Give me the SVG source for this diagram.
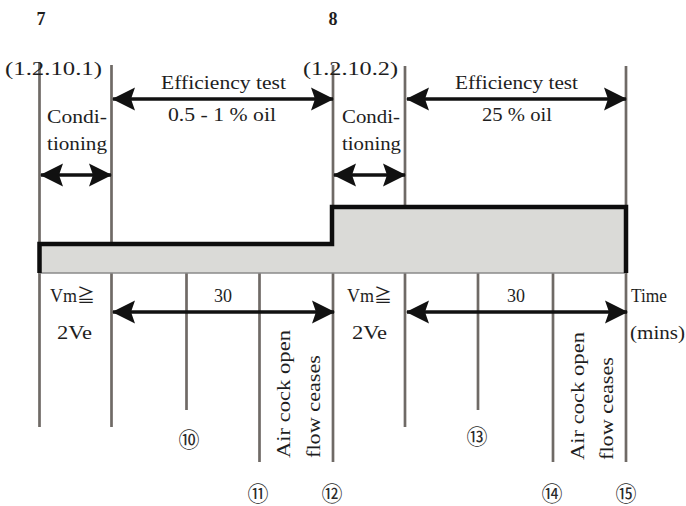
<svg xmlns="http://www.w3.org/2000/svg" width="686" height="506" viewBox="0 0 686 506">
<style>
.t{font-family:"Liberation Serif","Noto Sans CJK JP",serif;font-size:18px;fill:#1e1e1e}
.b{font-weight:bold;font-size:18px}
.m{text-anchor:middle}
.c{font-family:"Noto Sans CJK JP","Liberation Serif",serif;font-size:21px;fill:#2a2a2a;text-anchor:middle}
.g{stroke:#6f6a66;stroke-width:2.7;fill:none}
.a{stroke:#111;stroke-width:3.5;fill:none;marker-start:url(#ah);marker-end:url(#ah)}
</style>
<defs>
<marker id="ah" viewBox="-24 -13 26 26" markerUnits="userSpaceOnUse" markerWidth="26" markerHeight="26" refX="0" refY="0" orient="auto-start-reverse">
<path d="M1,0 L-22,-11.5 L-18,0 L-22,11.5 Z" fill="#111"/>
</marker>
</defs>
<rect width="686" height="506" fill="#fff"/>
<g id="gridlines">
<line class="g" x1="39.5" y1="62" x2="39.5" y2="427"/>
<line class="g" x1="111.5" y1="65" x2="111.5" y2="427"/>
<line class="g" x1="186.5" y1="273" x2="186.5" y2="410"/>
<line class="g" x1="259.5" y1="273" x2="259.5" y2="462"/>
<line class="g" x1="333" y1="65" x2="333" y2="462"/>
<line class="g" x1="405" y1="66" x2="405" y2="427"/>
<line class="g" x1="478" y1="273" x2="478" y2="410"/>
<line class="g" x1="553" y1="273" x2="553" y2="462"/>
<line class="g" x1="626" y1="66" x2="626" y2="462"/>
</g>
<g id="oil-bar">
<path d="M39,273 V244 H332 V207 H626 V273 Z" fill="#dadad7"/>
<line x1="39" y1="273" x2="626" y2="273" stroke="#8a8a8a" stroke-width="1.5"/>
<path d="M39.5,273 V244 H332 V207 H626 V273" fill="none" stroke="#0d0d0d" stroke-width="4.5"/>
</g>
<g id="connectors">
<line class="a" x1="113" y1="99" x2="333" y2="99"/>
<line class="a" x1="407" y1="99" x2="626" y2="99"/>
<line class="a" x1="41" y1="175" x2="111" y2="175"/>
<line class="a" x1="334" y1="175" x2="405" y2="175"/>
<line class="a" x1="113" y1="312" x2="334" y2="312"/>
<line class="a" x1="407" y1="312" x2="627" y2="312"/>
</g>
<g id="top-labels">
<text class="t b m" x="41" y="25">7</text>
<text class="t b m" x="333" y="25">8</text>
<text class="t" x="5" y="75" textLength="97" lengthAdjust="spacingAndGlyphs">(1.2.10.1)</text>
<text class="t" x="303" y="75" textLength="95" lengthAdjust="spacingAndGlyphs">(1.2.10.2)</text>
</g>
<g id="phase1">
<text class="t" x="47" y="123" textLength="60" lengthAdjust="spacingAndGlyphs">Condi-</text>
<text class="t" x="47" y="150" textLength="60" lengthAdjust="spacingAndGlyphs">tioning</text>
<text class="t" x="161" y="89" textLength="125" lengthAdjust="spacingAndGlyphs">Efficiency test</text>
<text class="t" x="168" y="121" textLength="108" lengthAdjust="spacingAndGlyphs">0.5 - 1 % oil</text>
</g>
<g id="phase2">
<text class="t" x="342" y="123" textLength="58" lengthAdjust="spacingAndGlyphs">Condi-</text>
<text class="t" x="342" y="150" textLength="59" lengthAdjust="spacingAndGlyphs">tioning</text>
<text class="t" x="455" y="89" textLength="123" lengthAdjust="spacingAndGlyphs">Efficiency test</text>
<text class="t" x="482" y="121" textLength="70" lengthAdjust="spacingAndGlyphs">25 % oil</text>
</g>
<g id="lower1">
<text class="t" x="50" y="302">Vm≧</text>
<text class="t" x="57" y="339" textLength="35" lengthAdjust="spacingAndGlyphs">2Ve</text>
<text class="t m" x="223" y="302">30</text>
<text class="t" transform="translate(290,458) rotate(-90)" textLength="128" lengthAdjust="spacingAndGlyphs">Air cock open</text>
<text class="t" transform="translate(320,458) rotate(-90)" textLength="103" lengthAdjust="spacingAndGlyphs">flow ceases</text>
<text class="c" x="189" y="447">⑩</text>
<text class="c" x="258" y="501">⑪</text>
<text class="c" x="332" y="501">⑫</text>
</g>
<g id="lower2">
<text class="t" x="347" y="302">Vm≧</text>
<text class="t" x="352" y="339" textLength="35" lengthAdjust="spacingAndGlyphs">2Ve</text>
<text class="t m" x="516" y="302">30</text>
<text class="t" transform="translate(584,460) rotate(-90)" textLength="128" lengthAdjust="spacingAndGlyphs">Air cock open</text>
<text class="t" transform="translate(613,460) rotate(-90)" textLength="103" lengthAdjust="spacingAndGlyphs">flow ceases</text>
<text class="c" x="477" y="444">⑬</text>
<text class="c" x="552" y="501">⑭</text>
<text class="c" x="626" y="501">⑮</text>
<text class="t" x="631" y="302" textLength="36" lengthAdjust="spacingAndGlyphs">Time</text>
<text class="t" x="630" y="339" textLength="55" lengthAdjust="spacingAndGlyphs">(mins)</text>
</g>
</svg>
